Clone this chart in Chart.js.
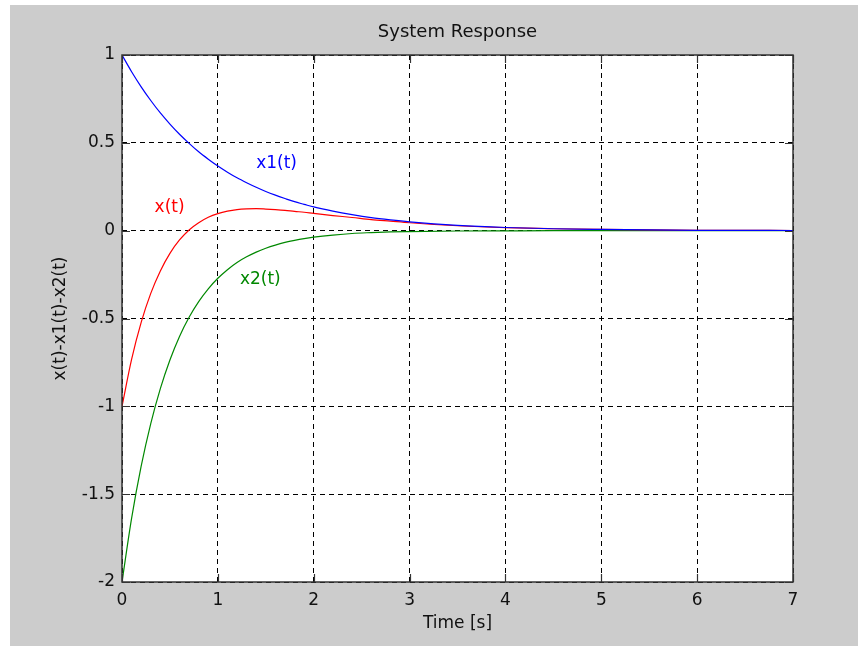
<!DOCTYPE html>
<html>
<head>
<meta charset="utf-8">
<script src="https://cdn.jsdelivr.net/npm/chart.js@4"></script>
<style>
  body { margin: 0; background: #fff; }
  canvas { display: block; }
</style>
</head>
<body>
<canvas id="myChart" width="858" height="646"></canvas>
<script>
// time samples [s]
const times = [0, 0.1, 0.2, 0.3, 0.4, 0.5, 0.6, 0.7, 0.8, 0.9, 1.0, 1.1, 1.2, 1.3, 1.4, 1.5, 1.6, 1.7, 1.8, 1.9, 2.0,
  2.2, 2.4, 2.6, 2.8, 3.0, 3.5, 4.0, 4.5, 5.0, 5.5, 6.0, 6.5, 7.0];

// values
const x1Values = [1.000, 0.905, 0.819, 0.741, 0.670, 0.607, 0.549, 0.497, 0.449, 0.407, 0.368, 0.333, 0.301, 0.273, 0.247,
  0.223, 0.202, 0.183, 0.165, 0.150, 0.135, 0.111, 0.091, 0.074, 0.061, 0.050, 0.030, 0.018, 0.011, 0.007, 0.004, 0.002, 0.0015, 0.001];
const x2Values = [-2.000, -1.638, -1.341, -1.098, -0.899, -0.736, -0.602, -0.493, -0.404, -0.331, -0.271, -0.222, -0.181, -0.149, -0.122,
  -0.100, -0.082, -0.067, -0.055, -0.045, -0.037, -0.025, -0.016, -0.011, -0.007, -0.005, -0.002, -0.001, 0, 0, 0, 0, 0, 0];
const xValues = [-1.000, -0.733, -0.522, -0.357, -0.229, -0.129, -0.053, 0.004, 0.045, 0.076, 0.097, 0.111, 0.120, 0.124, 0.125,
  0.123, 0.120, 0.116, 0.110, 0.105, 0.098, 0.086, 0.075, 0.063, 0.054, 0.045, 0.028, 0.017, 0.011, 0.007, 0.004, 0.002, 0.0015, 0.001];

const xTicks = [0, 1, 2, 3, 4, 5, 6, 7];
const yTicks = [-2, -1.5, -1, -0.5, 0, 0.5, 1];

// curve labels: [text, t, value, colour]
const curveLabels = [
  ['x1(t)', 1.40, 0.38, '#0000ff'],
  ['x(t)', 0.34, 0.13, '#ff0000'],
  ['x2(t)', 1.23, -0.28, '#008800']
];

const FONT = 'DejaVu Sans';

const toPoints = vals => times.map((t, i) => ({ x: t, y: vals[i] }));

const frame = {
  id: 'frame',
  beforeDraw(chart) {
    const { ctx, chartArea: a } = chart;
    ctx.save();
    ctx.fillStyle = '#fff';
    ctx.fillRect(0, 0, chart.width, chart.height);
    ctx.fillStyle = '#cccccc';
    ctx.fillRect(10, 5, chart.width - 10, chart.height - 5);
    ctx.fillStyle = '#fff';
    ctx.fillRect(a.left, a.top, a.right - a.left, a.bottom - a.top);
    ctx.restore();
  },
  afterDatasetsDraw(chart) {
    const { ctx, chartArea: a, scales } = chart;
    ctx.save();
    ctx.font = '17px ' + FONT;
    ctx.textBaseline = 'middle';
    ctx.textAlign = 'left';
    curveLabels.forEach(([txt, t, v, c]) => {
      ctx.fillStyle = c;
      ctx.fillText(txt, scales.x.getPixelForValue(t), scales.y.getPixelForValue(v));
    });
    // box
    ctx.strokeStyle = '#333';
    ctx.lineWidth = 1.5;
    ctx.strokeRect(a.left, a.top, a.right - a.left, a.bottom - a.top);
    // inward ticks
    ctx.lineWidth = 1.2;
    ctx.beginPath();
    const len = 8;
    xTicks.forEach(t => {
      const px = Math.round(scales.x.getPixelForValue(t)) + 0.5;
      ctx.moveTo(px, a.bottom); ctx.lineTo(px, a.bottom - len);
      ctx.moveTo(px, a.top); ctx.lineTo(px, a.top + len);
    });
    yTicks.forEach(v => {
      const py = Math.round(scales.y.getPixelForValue(v)) + 0.5;
      ctx.moveTo(a.left, py); ctx.lineTo(a.left + len, py);
      ctx.moveTo(a.right, py); ctx.lineTo(a.right - len, py);
    });
    ctx.stroke();
    // title
    ctx.fillStyle = '#111';
    ctx.font = '18px ' + FONT;
    ctx.textAlign = 'center';
    ctx.textBaseline = 'middle';
    ctx.fillText('System Response', (a.left + a.right) / 2, 32);
    ctx.restore();
  }
};

const ctx = document.getElementById('myChart').getContext('2d');
const myChart = new Chart(ctx, {
  type: 'line',
  data: {
    datasets: [
      { label: 'x1(t)', data: toPoints(x1Values), borderColor: '#0000ff' },
      { label: 'x(t)', data: toPoints(xValues), borderColor: '#ff0000' },
      { label: 'x2(t)', data: toPoints(x2Values), borderColor: '#008800' }
    ]
  },
  options: {
    responsive: false,
    animation: false,
    layout: { padding: { top: 55, right: 65, left: 0, bottom: 0 } },
    elements: {
      point: { radius: 0 },
      line: { borderWidth: 1.2, cubicInterpolationMode: 'monotone' }
    },
    plugins: {
      legend: { display: false },
      title: { display: false },
      tooltip: { enabled: false }
    },
    scales: {
      x: {
        type: 'linear',
        min: 0,
        max: 7,
        afterFit: s => { s.height = 64; },
        afterBuildTicks: s => { s.ticks = xTicks.map(v => ({ value: v })); },
        ticks: { color: '#111', font: { family: FONT, size: 17 }, padding: 8, maxRotation: 0, callback: v => String(v) },
        grid: { color: '#000', drawTicks: false },
        border: { display: false, dash: [5, 4] },
        title: { display: true, text: 'Time [s]', color: '#111', font: { family: FONT, size: 17 }, padding: { bottom: 12, top: 0 } }
      },
      y: {
        min: -2,
        max: 1,
        afterFit: s => { s.width = 122; },
        afterBuildTicks: s => { s.ticks = yTicks.map(v => ({ value: v })); },
        ticks: { color: '#111', font: { family: FONT, size: 17 }, padding: 7, callback: v => String(v) },
        grid: { color: '#000', drawTicks: false },
        border: { display: false, dash: [5, 4] },
        title: { display: true, text: 'x(t)-x1(t)-x2(t)', color: '#111', font: { family: FONT, size: 17 }, padding: { top: 50, bottom: 0 } }
      }
    }
  },
  plugins: [frame]
});
</script>
</body>
</html>
